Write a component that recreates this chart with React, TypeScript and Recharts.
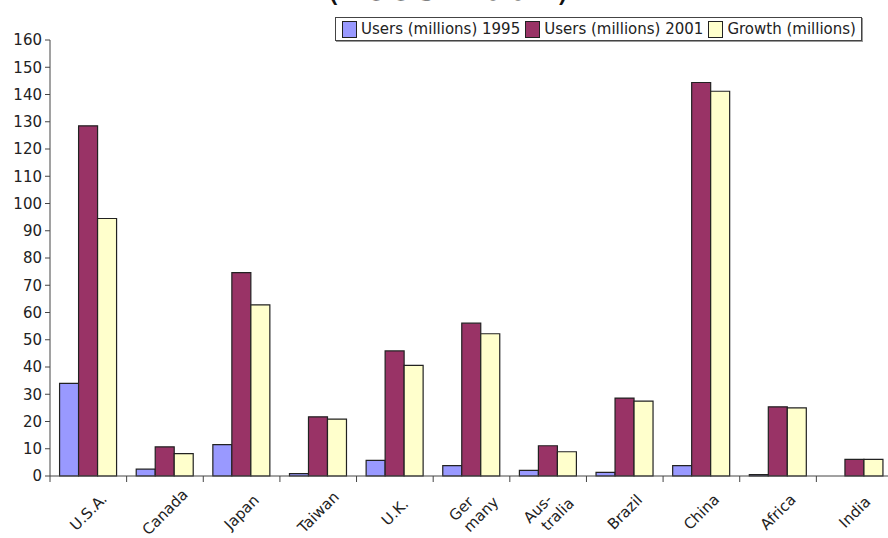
import React from 'react';
import { BarChart, Bar, XAxis, YAxis, Legend } from 'recharts';

const countries = ['U.S.A.', 'Canada', 'Japan', 'Taiwan', 'U.K.', 'Ger many', 'Aus- tralia', 'Brazil', 'China', 'Africa', 'India'];
const users1995 = [34, 2.5, 11.5, 0.9, 5.7, 3.8, 2.1, 1.3, 3.8, 0.5, 0];
const users2001 = [128.5, 10.7, 74.6, 21.7, 45.9, 56.1, 11.1, 28.6, 144.4, 25.4, 6.1];
const growth = [94.5, 8.2, 62.8, 20.9, 40.6, 52.2, 8.9, 27.5, 141.2, 25, 6.1];
const yTicks = [0, 10, 20, 30, 40, 50, 60, 70, 80, 90, 100, 110, 120, 130, 140, 150, 160];

const seriesNames = ['Users (millions) 1995', 'Users (millions) 2001', 'Growth (millions)'];
const colors = ['#9999FF', '#993366', '#FFFFCC'];

const data = countries.map((c, i) => ({
  country: c,
  u1995: users1995[i],
  u2001: users2001[i],
  growth: growth[i],
}));

const FONT = '"DejaVu Sans", Verdana, sans-serif';
const CHART_W = 900;
const MARGIN = { top: 16, right: 7, left: 0, bottom: 0 };
const Y_W = 50;
const BAND = (CHART_W - MARGIN.left - MARGIN.right - Y_W) / countries.length;

function CountryTick(props: any) {
  const { x, y, payload, index } = props;
  const parts = String(payload.value).split(' ');
  const cx = x;
  const cy = y + 36;
  return (
    <g>
      <line x1={x - BAND / 2} x2={x - BAND / 2} y1={y} y2={y + 6} stroke="#444" />
      {index === countries.length - 1 && (
        <line x1={x + BAND / 2} x2={x + BAND / 2} y1={y} y2={y + 6} stroke="#444" />
      )}
      <text
        x={cx}
        y={cy}
        textAnchor="middle"
        fontFamily={FONT}
        fontSize={15}
        fill="#222"
        transform={`rotate(-45, ${cx}, ${cy})`}
      >
        {parts.length === 1 ? (
          <tspan x={cx} dy="0.35em">{parts[0]}</tspan>
        ) : (
          <>
            <tspan x={cx - 5} dy="-0.3em">{parts[0]}</tspan>
            <tspan x={cx + 5} dy="1.2em">{parts[1]}</tspan>
          </>
        )}
      </text>
    </g>
  );
}

function LegendBox() {
  return (
    <div
      style={{
        display: 'flex',
        alignItems: 'center',
        border: '1px solid #444',
        background: '#fff',
        padding: '2px 5px 2px 6px',
        fontFamily: FONT,
        fontSize: 15,
        color: '#222',
        whiteSpace: 'nowrap',
        boxShadow: '1px 1px 0 #999',
      }}
    >
      {seriesNames.map((n, i) => (
        <span key={n} style={{ display: 'flex', alignItems: 'center', marginRight: i < 2 ? 5 : 0 }}>
          <span
            style={{
              display: 'inline-block',
              width: 13,
              height: 15,
              background: colors[i],
              border: '1px solid #222',
              marginRight: 4,
            }}
          />
          {n}
        </span>
      ))}
    </div>
  );
}

export default function App() {
  return (
    <div style={{ position: 'absolute', left: 0, top: 0, width: 888, height: 538, overflow: 'hidden', background: '#fff' }}>
      <div
        style={{
          position: 'absolute',
          left: 326,
          top: -32,
          fontFamily: FONT,
          fontSize: 36,
          color: '#111',
          letterSpacing: 2,
          whiteSpace: 'nowrap',
          lineHeight: '40px',
        }}
      >
        (1995-2001)
      </div>
      <BarChart
        width={CHART_W}
        height={538}
        data={data}
        margin={MARGIN}
        barCategoryGap="12.5%"
        barGap={0}
      >
        <XAxis
          dataKey="country"
          interval={0}
          height={62}
          tickSize={0}
          tickMargin={0}
          tickLine={false}
          axisLine={{ stroke: '#444' }}
          tick={<CountryTick />}
        />
        <YAxis
          width={Y_W}
          domain={[0, 160]}
          ticks={yTicks}
          interval={0}
          tickSize={5}
          tickMargin={3}
          axisLine={{ stroke: '#444' }}
          tickLine={{ stroke: '#444' }}
          tick={{ fontFamily: FONT, fontSize: 15, fill: '#222' }}
        />
        <Legend
          verticalAlign="top"
          content={() => <LegendBox />}
          wrapperStyle={{ position: 'absolute', top: 17, left: 335, width: 'auto' }}
        />
        <Bar dataKey="u1995" name={seriesNames[0]} fill={colors[0]} stroke="#222" strokeWidth={1.2} isAnimationActive={false} />
        <Bar dataKey="u2001" name={seriesNames[1]} fill={colors[1]} stroke="#222" strokeWidth={1.2} isAnimationActive={false} />
        <Bar dataKey="growth" name={seriesNames[2]} fill={colors[2]} stroke="#222" strokeWidth={1.2} isAnimationActive={false} />
      </BarChart>
    </div>
  );
}
